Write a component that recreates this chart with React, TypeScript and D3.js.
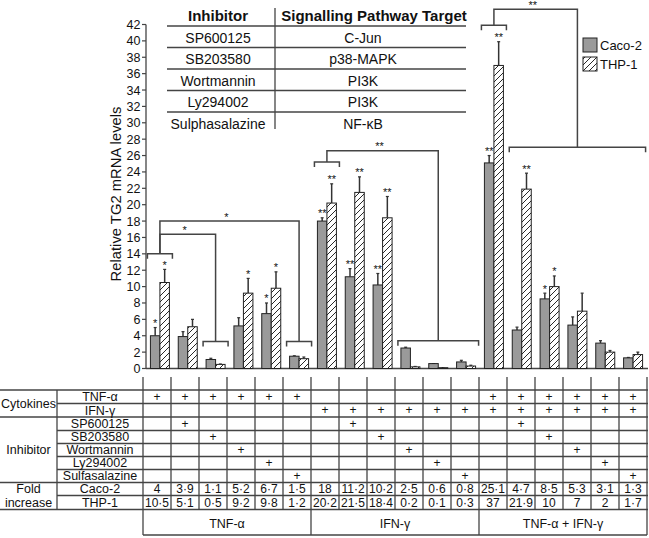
import React from "react";
import * as d3 from "d3";

const groups = d3.range(18);
const caco = [4, 3.9, 1.1, 5.2, 6.7, 1.5, 18, 11.2, 10.2, 2.5, 0.6, 0.8, 25.1, 4.7, 8.5, 5.3, 3.1, 1.3];
const thp = [10.5, 5.1, 0.5, 9.2, 9.8, 1.2, 20.2, 21.5, 18.4, 0.2, 0.1, 0.3, 37, 21.9, 10, 7, 2, 1.7];
const cacoErr = [1.0, 0.6, 0.15, 1.0, 1.3, 0.05, 0.4, 1.0, 1.4, 0.1, 0, 0.2, 0.9, 0.35, 0.7, 1.0, 0.3, 0.05];
const thpErr = [1.6, 0.9, 0.05, 1.8, 2.0, 0.2, 2.35, 1.9, 2.6, 0.05, 0, 0.1, 2.9, 1.95, 1.3, 2.2, 0.2, 0.3];
const cacoStars = ["*", "", "", "", "*", "", "**", "**", "**", "", "", "", "**", "", "*", "", "", ""];
const thpStars = ["*", "", "", "*", "*", "", "**", "**", "**", "", "", "", "**", "**", "*", "", "", ""];
const yTicks = d3.range(0, 43, 2);

// significance brackets (group indices & levels)
const smallBrackets = [
  { from: 0, to: 0, level: 14 },
  { from: 2, to: 2, level: 3.3 },
  { from: 5, to: 5, level: 3.3 },
  { from: 6, to: 6, level: 25.2 },
  { from: 9, to: 11, level: 3.4 },
  { from: 12, to: 12, level: 41.9 },
  { from: 13, to: 17, level: 27 },
];
const links = [
  { a: 0, b: 1, level: 16.4, star: "*" },
  { a: 0, b: 2, level: 18, star: "*" },
  { a: 3, b: 4, level: 26.6, star: "**" },
  { a: 5, b: 6, level: 43.85, star: "**" },
];

const inhibitors = ["SP600125", "SB203580", "Wortmannin", "Ly294002", "Sulphasalazine"];
const targets = ["C-Jun", "p38-MAPK", "PI3K", "PI3K", "NF-κB"];

const rowLabels = ["TNF-α", "IFN-γ", "SP600125", "SB203580", "Wortmannin", "Ly294002", "Sulfasalazine", "Caco-2", "THP-1"];
const tnfOn = [1, 1, 1, 1, 1, 1, 0, 0, 0, 0, 0, 0, 1, 1, 1, 1, 1, 1];
const ifnOn = [0, 0, 0, 0, 0, 0, 1, 1, 1, 1, 1, 1, 1, 1, 1, 1, 1, 1];
const inhibitorOf = [-1, 0, 1, 2, 3, 4, -1, 0, 1, 2, 3, 4, -1, 0, 1, 2, 3, 4];
const cacoFold = ["4", "3·9", "1·1", "5·2", "6·7", "1·5", "18", "11·2", "10·2", "2·5", "0·6", "0·8", "25·1", "4·7", "8·5", "5·3", "3·1", "1·3"];
const thpFold = ["10·5", "5·1", "0·5", "9·2", "9·8", "1·2", "20·2", "21·5", "18·4", "0·2", "0·1", "0·3", "37", "21·9", "10", "7", "2", "1·7"];
const treatments = ["TNF-α", "IFN-γ", "TNF-α + IFN-γ"];

const FONT = "'Liberation Sans', Arial, Helvetica, sans-serif";
const LINE = "#444";

export default function App() {
  const W = 649, H = 538;
  const y = d3.scaleLinear().domain([0, 42]).range([368.5, 24.5]);
  const xb = d3.scaleBand<number>().domain(groups).range([146, 647]);
  const xt = d3.scaleBand<number>().domain(groups).range([143, 647]);
  const bw = 9.5;
  const cx = (i: number) => (xb(i) as number) + xb.bandwidth() / 2;
  const bracketX = (b: { from: number; to: number }) => [cx(b.from) - 12.5, cx(b.to) + 12.5];
  const bracketC = (b: { from: number; to: number }) => {
    const [a, c] = bracketX(b);
    return (a + c) / 2;
  };

  // table rows
  const rowEdges = [390, 403.5, 417, 430.5, 443.5, 456.5, 469.5, 482.5, 495.5, 509.5];
  const bottomY = 535;
  const fullRows = new Set([0, 2, 7, 9]);

  return (
    <svg width={W} height={H} style={{ position: "absolute", left: 0, top: 0 }} fontFamily={FONT}>
      <defs>
        <pattern id="hatch" patternUnits="userSpaceOnUse" width={6} height={6}>
          <rect width={6} height={6} fill="white" />
          <path d="M0,6 L6,0 M-1,1 L1,-1 M5,7 L7,5" stroke="#111" strokeWidth={0.9} />
        </pattern>
      </defs>
      <rect width={W} height={H} fill="white" />

      {/* Inhibitor table */}
      <g fontSize={14} textAnchor="middle" fill="#111">
        <text x={218} y={21} fontWeight="bold" fontSize={15}>Inhibitor</text>
        <text x={374} y={21} fontWeight="bold" fontSize={15}>Signalling Pathway Target</text>
        {inhibitors.map((s, i) => (
          <g key={s}>
            <text x={218} y={42.5 + i * 21.5}>{s}</text>
            <text x={363} y={42.5 + i * 21.5}>{targets[i]}</text>
          </g>
        ))}
        {[26, 47.5, 69, 90.5, 112].map((ly) => (
          <line key={ly} x1={167} x2={466} y1={ly} y2={ly} stroke={LINE} strokeWidth={1.3} />
        ))}
        <line x1={275} x2={275} y1={8} y2={129} stroke={LINE} strokeWidth={1.3} />
      </g>

      {/* Y axis */}
      <g fontSize={12.5} fill="#111">
        <line x1={146} x2={146} y1={y(42)} y2={y(0)} stroke={LINE} strokeWidth={1.3} />
        <line x1={146} x2={648} y1={y(0)} y2={y(0)} stroke={LINE} strokeWidth={1.3} />
        {yTicks.map((t) => (
          <g key={t}>
            <line x1={142} x2={146} y1={y(t)} y2={y(t)} stroke={LINE} strokeWidth={1.2} />
            <text x={140.5} y={y(t)} dy="0.36em" textAnchor="end">{t}</text>
          </g>
        ))}
        <text transform={`translate(121,194) rotate(-90)`} textAnchor="middle" fontSize={14.8}>
          Relative TG2 mRNA levels
        </text>
      </g>

      {/* Bars */}
      {groups.map((i) => {
        const c = cx(i);
        const cTop = y(caco[i] + cacoErr[i]);
        const tTop = y(thp[i] + thpErr[i]);
        return (
          <g key={i}>
            <line x1={c - bw / 2} x2={c - bw / 2} y1={y(caco[i])} y2={cTop} stroke="#333" strokeWidth={1.5} />
            <line x1={c - bw / 2 - 1.5} x2={c - bw / 2 + 1.5} y1={cTop} y2={cTop} stroke="#333" strokeWidth={1.2} />
            <line x1={c + bw / 2} x2={c + bw / 2} y1={y(thp[i])} y2={tTop} stroke="#333" strokeWidth={1.5} />
            <line x1={c + bw / 2 - 1.5} x2={c + bw / 2 + 1.5} y1={tTop} y2={tTop} stroke="#333" strokeWidth={1.2} />
            <rect x={c - bw} y={y(caco[i])} width={bw} height={y(0) - y(caco[i])} fill="#9a9a9a" stroke="#222" strokeWidth={1} />
            <rect x={c} y={y(thp[i])} width={bw} height={y(0) - y(thp[i])} fill="url(#hatch)" stroke="#222" strokeWidth={1} />
            <text x={c - bw / 2} y={cTop - 0.5} textAnchor="middle" fontSize={11} fill="#111">{cacoStars[i]}</text>
            <text x={c + bw / 2} y={tTop - 0.5} textAnchor="middle" fontSize={11} fill="#111">{thpStars[i]}</text>
          </g>
        );
      })}

      {/* Brackets */}
      <g stroke="#444" strokeWidth={1.5} fill="none">
        {smallBrackets.map((b, k) => {
          const [a, c] = bracketX(b);
          const yy = y(b.level);
          return <path key={k} d={`M${a},${yy + 5}V${yy}H${c}V${yy + 5}`} />;
        })}
        {links.map((l, k) => {
          const A = smallBrackets[l.a];
          const B = smallBrackets[l.b];
          return <path key={k} d={`M${bracketC(A)},${y(A.level)}V${y(l.level)}H${bracketC(B)}V${y(B.level)}`} />;
        })}
      </g>
      <g fontSize={11} textAnchor="middle" fill="#111">
        {links.map((l, k) => {
          const A = smallBrackets[l.a];
          const B = smallBrackets[l.b];
          const mid = (bracketC(A) + bracketC(B)) / 2 - 3;
          return <text key={k} x={mid} y={y(l.level) - 0.5}>{l.star}</text>;
        })}
      </g>

      {/* Legend */}
      <g fontSize={13} fill="#111">
        <rect x={583} y={38} width={14} height={14} fill="#9a9a9a" stroke="#222" />
        <text x={600} y={50}>Caco-2</text>
        <rect x={583} y={57} width={14} height={14} fill="url(#hatch)" stroke="#222" />
        <text x={600} y={69}>THP-1</text>
      </g>

      {/* Bottom table */}
      <g stroke={LINE} strokeWidth={1.3}>
        {rowEdges.map((ry, k) => (
          <line key={ry} x1={fullRows.has(k) ? 0 : 57} x2={648} y1={ry} y2={ry} />
        ))}
        <line x1={57} x2={57} y1={390} y2={509.5} />
        {d3.range(19).map((k) => {
          const xx = k === 18 ? 647 : (xt(k) as number);
          const long = k % 6 === 0;
          return <line key={k} x1={xx} x2={xx} y1={377} y2={long ? bottomY : 509.5} />;
        })}
        <line x1={143} x2={647} y1={bottomY} y2={bottomY} />
      </g>
      <g fontSize={12.5} textAnchor="middle" fill="#111">
        <text x={28.5} y={(390 + 417) / 2} dy="0.35em">Cytokines</text>
        <text x={28.5} y={(417 + 482.5) / 2} dy="0.35em">Inhibitor</text>
        <text x={28.5} y={489} dy="0.35em">Fold</text>
        <text x={28.5} y={503} dy="0.35em">increase</text>
        {rowLabels.map((r, k) => (
          <text key={r} x={100} y={(rowEdges[k] + rowEdges[k + 1]) / 2} dy="0.35em">{r}</text>
        ))}
      </g>
      <g fontSize={12} textAnchor="middle" fill="#111">
        {groups.map((i) => {
          const c = (xt(i) as number) + xt.bandwidth() / 2;
          const mid = (k: number) => (rowEdges[k] + rowEdges[k + 1]) / 2;
          return (
            <g key={i}>
              {tnfOn[i] ? <text x={c} y={mid(0)} dy="0.35em">+</text> : null}
              {ifnOn[i] ? <text x={c} y={mid(1)} dy="0.35em">+</text> : null}
              {inhibitorOf[i] >= 0 ? <text x={c} y={mid(2 + inhibitorOf[i])} dy="0.35em">+</text> : null}
              <text x={c} y={mid(7)} dy="0.35em">{cacoFold[i]}</text>
              <text x={c} y={mid(8)} dy="0.35em">{thpFold[i]}</text>
            </g>
          );
        })}
        {treatments.map((t, k) => (
          <text key={t} x={(xt(k * 6) as number) + xt.bandwidth() * 3} y={(509.5 + bottomY) / 2 + 1} dy="0.35em" fontSize={12.5}>{t}</text>
        ))}
      </g>
    </svg>
  );
}
